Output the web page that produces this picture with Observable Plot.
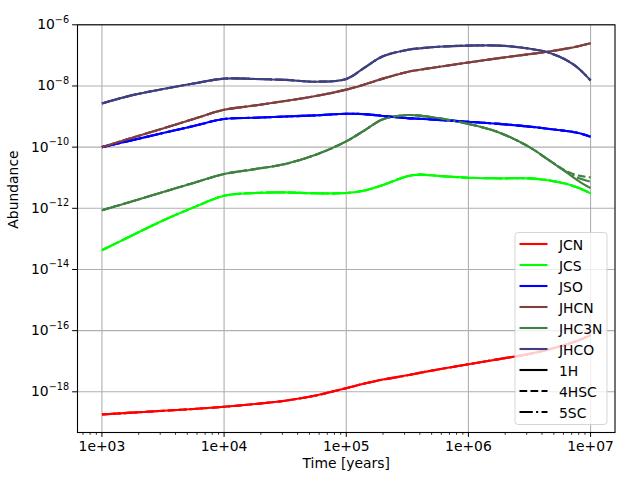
<!DOCTYPE html>
<html><head><meta charset="utf-8">
<script src="https://cdn.jsdelivr.net/npm/d3@7"></script>
<script src="https://cdn.jsdelivr.net/npm/@observablehq/plot@0.6"></script>
<style>body{margin:0;background:#fff;}</style>
</head><body><div id="chart"></div>
<script>
// time in log10(years)
const logTime = [3, 3.25, 3.5, 3.75, 4, 4.25, 4.5, 4.75, 5, 5.15, 5.3, 5.5, 5.6, 5.75, 6, 6.25, 6.5, 6.65, 6.8, 6.9, 7];
// abundances as log10 values
const JCN   = [-18.74,-18.68,-18.62,-18.56,-18.49,-18.40,-18.29,-18.12,-17.88,-17.73,-17.60,-17.46,-17.38,-17.27,-17.10,-16.93,-16.76,-16.62,-16.45,-16.32,-16.14];
const JCS   = [-13.37,-12.88,-12.40,-11.97,-11.59,-11.50,-11.48,-11.51,-11.50,-11.42,-11.24,-10.95,-10.90,-10.94,-11.00,-11.02,-11.02,-11.08,-11.20,-11.33,-11.51];
const JSO   = [-10.00,-9.77,-9.54,-9.31,-9.08,-9.04,-9.00,-8.96,-8.91,-8.92,-8.98,-9.05,-9.07,-9.11,-9.17,-9.24,-9.33,-9.40,-9.47,-9.54,-9.66];
const JHCN  = [-10.00,-9.69,-9.39,-9.08,-8.78,-8.64,-8.49,-8.33,-8.12,-7.95,-7.76,-7.54,-7.47,-7.38,-7.23,-7.09,-6.96,-6.88,-6.78,-6.70,-6.60];
const JHC3N = [-12.06,-11.77,-11.47,-11.17,-10.88,-10.72,-10.55,-10.25,-9.81,-9.45,-9.09,-8.95,-8.97,-9.05,-9.24,-9.52,-10.00,-10.40,-10.82,-11.10,-11.34];
const JHC3N_4HSC = [-12.06,-11.77,-11.47,-11.17,-10.88,-10.72,-10.55,-10.25,-9.81,-9.45,-9.09,-8.95,-8.97,-9.05,-9.24,-9.52,-10.00,-10.40,-10.78,-10.93,-10.99];
const JHC3N_5SC  = [-12.06,-11.77,-11.47,-11.17,-10.88,-10.72,-10.55,-10.25,-9.81,-9.45,-9.09,-8.95,-8.97,-9.05,-9.24,-9.52,-10.00,-10.40,-10.80,-11.01,-11.13];
const JHCO  = [-8.57,-8.30,-8.10,-7.92,-7.76,-7.77,-7.80,-7.86,-7.77,-7.40,-7.03,-6.82,-6.77,-6.72,-6.68,-6.68,-6.78,-6.90,-7.15,-7.42,-7.82];

const species = ["JCN","JCS","JSO","JHCN","JHC3N","JHCO"];
const models = ["1H","4HSC","5SC"];
const seriesByModel = {
  "1H":   [JCN, JCS, JSO, JHCN, JHC3N, JHCO],
  "4HSC": [JCN, JCS, JSO, JHCN, JHC3N_4HSC, JHCO],
  "5SC":  [JCN, JCS, JSO, JHCN, JHC3N_5SC, JHCO]
};
const xTicks = [1e3, 1e4, 1e5, 1e6, 1e7];
const yTicks = [1e-6, 1e-8, 1e-10, 1e-12, 1e-14, 1e-16, 1e-18];

// styles
const speciesColors = ["#ff0000","#00ff00","#0000ff","#804040","#408040","#404080"];
const modelDashes = ["none", "7.7,3.3", "13.3,3.3,2.1,3.3"];
const FONT = "DejaVu Sans";
const FS = 13.9;
const xDomain = [10**2.8, 10**7.2];
const yDomain = [10**-19.33, 1e-6];

const rows = {};
models.forEach(m => {
  rows[m] = [];
  species.forEach((s, i) => {
    seriesByModel[m][i].forEach((v, k) => rows[m].push({t: 10**logTime[k], a: 10**v, species: s}));
  });
});

const minorX = [];
for (let e = 2; e <= 7; e++) for (let k = 2; k <= 9; k++) {
  const v = k * 10**e;
  if (v > xDomain[0] && v < xDomain[1]) minorX.push(v);
}

const plot = Plot.plot({
  width: 640, height: 480,
  marginLeft: 77, marginRight: 25.5, marginTop: 24.3, marginBottom: 48,
  style: {fontFamily: FONT, fontSize: FS + "px", background: "white", color: "black"},
  x: {type: "log", domain: xDomain, ticks: xTicks, tickSize: 4.9, tickPadding: 3.5, label: null,
      tickFormat: d => "1e+" + String(Math.round(Math.log10(d))).padStart(2, "0")},
  y: {type: "log", domain: yDomain, ticks: yTicks, tickSize: 4.9, tickPadding: 3.5, label: null,
      tickFormat: d => "10^\u2212" + Math.round(-Math.log10(d))},
  color: {domain: species, range: speciesColors},
  marks: [
    Plot.ruleX(xTicks, {stroke: "#b0b0b0", strokeWidth: 1.1}),
    Plot.ruleY(yTicks, {stroke: "#b0b0b0", strokeWidth: 1.1}),
    ...models.map((m, i) => Plot.line(rows[m], {
      x: "t", y: "a", z: "species", stroke: "species",
      strokeWidth: 2.1, strokeDasharray: modelDashes[i] === "none" ? undefined : modelDashes[i],
      curve: "catmull-rom", strokeLinecap: "butt"
    })),
    Plot.ruleX(minorX, {y1: yDomain[0], y2: yDomain[0] / 10**(2.8/30.58), stroke: "black", strokeWidth: 0.8}),
    Plot.frame({stroke: "black", strokeWidth: 1.1}),
    Plot.text(["Time [years]"], {frameAnchor: "bottom", dy: 35, text: d => d, fontSize: FS, fill: "black"}),
    Plot.text(["Abundance"], {frameAnchor: "left", dx: -63.5, rotate: -90, text: d => d, fontSize: FS, fill: "black"})
  ]
});

// superscript exponents on y tick labels
const ns = "http://www.w3.org/2000/svg";
plot.querySelectorAll("text").forEach(t => {
  const m = /^10\^(.+)$/.exec(t.textContent);
  if (!m) return;
  t.textContent = "";
  const a = document.createElementNS(ns, "tspan"); a.textContent = "10";
  const b = document.createElementNS(ns, "tspan"); b.textContent = m[1];
  b.setAttribute("dy", "-6.5"); b.setAttribute("font-size", "9.7");
  t.append(a, b);
});

// legend
const lg = d3.select(plot).append("g").attr("font-family", FONT).attr("font-size", FS).attr("text-anchor", "start");
lg.append("rect").attr("x", 515).attr("y", 232.5).attr("width", 92).attr("height", 192).attr("rx", 3)
  .attr("fill", "white").attr("fill-opacity", 0.8).attr("stroke", "#cccccc").attr("stroke-opacity", 0.8);
const entries = species.map((s, i) => ({label: s, color: speciesColors[i], dash: "none"}))
  .concat(models.map((m, i) => ({label: m, color: "black", dash: modelDashes[i]})));
entries.forEach((e, i) => {
  const y = 244 + i * 21;
  lg.append("line").attr("x1", 519.5).attr("x2", 547.5).attr("y1", y).attr("y2", y)
    .attr("stroke", e.color).attr("stroke-width", 2.1).attr("stroke-dasharray", e.dash);
  lg.append("text").attr("x", 559).attr("y", y).attr("dy", "0.4em").attr("text-anchor", "start")
    .attr("fill", "black").text(e.label);
});

document.getElementById("chart").append(plot);
</script>
</body></html>
